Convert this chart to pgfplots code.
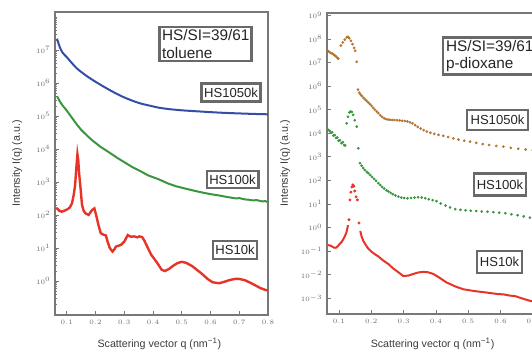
\documentclass[border=0pt]{standalone}
\usepackage{fontspec}
\setmainfont{Liberation Sans}
\usepackage{pgfplots}
\pgfplotsset{compat=1.18}
\definecolor{cblue}{RGB}{52,78,168}
\definecolor{cgreen}{RGB}{58,150,62}
\definecolor{cred}{RGB}{232,52,40}
\definecolor{cbrown}{RGB}{178,118,52}
\definecolor{axisgray}{RGB}{120,120,120}
\definecolor{labelgray}{RGB}{110,110,110}
\definecolor{textgray}{RGB}{60,60,60}
\definecolor{boxgray}{RGB}{105,105,105}
\pgfplotsset{
  panel/.style={
    scale only axis,
    axis line style={draw=axisgray, line width=0.8pt},
    tick style={draw=axisgray, line width=0.5pt},
    major tick length=3pt, minor tick length=1.6pt,
    tick align=inside, tick pos=left,
    ticklabel style={font=\fontsize{4.5}{5}\selectfont, text=labelgray},
    xticklabel style={/pgf/number format/fixed, /pgf/number format/precision=1},
    xlabel={Scattering vector q (nm\textsuperscript{−1})},
    ylabel={Intensity I(q) (a.u.)},
    label style={font=\fontsize{8}{9}\selectfont, text=textgray},
  }
}
\tikzset{hsbox/.style={draw=boxgray, line width=1.6pt, fill=white, inner xsep=2pt, inner ysep=2pt, font=\fontsize{9.8}{11}\selectfont, text=black!85}}
\begin{document}
\begin{tikzpicture}
\useasboundingbox (0,0) rectangle (399pt,264pt);
\clip (0,0) rectangle (399pt,264pt);
% ---------------- left panel: toluene
\begin{axis}[ymode=log, panel, anchor=south west, at={(41.25pt,27.75pt)}, width=159.75pt, height=227.25pt,
  xmin=0.059, xmax=0.8, ymin=0.093, ymax=1.41e8,
  xtick={0.1,0.2,0.3,0.4,0.5,0.6,0.7,0.8},
  ytick={1,10,100,1000,1e4,1e5,1e6,1e7},
  minor ytick={0.2,0.3,0.4,0.5,0.6,0.7,0.8,0.9,
    2,3,4,5,6,7,8,9, 20,30,40,50,60,70,80,90, 200,300,400,500,600,700,800,900,
    2e3,3e3,4e3,5e3,6e3,7e3,8e3,9e3, 2e4,3e4,4e4,5e4,6e4,7e4,8e4,9e4,
    2e5,3e5,4e5,5e5,6e5,7e5,8e5,9e5, 2e6,3e6,4e6,5e6,6e6,7e6,8e6,9e6,
    2e7,3e7,4e7,5e7,6e7,7e7,8e7,9e7,1e8},
  xlabel style={at={(axis description cs:0.49,-0.096)}, anchor=center},
  ylabel style={at={(axis description cs:-0.178,0.5)}, anchor=center},
]
\addplot[cblue, line width=1.5pt, smooth] coordinates {
(0.066,2.19e7)(0.075,1.26e7)(0.085,8.32e6)(0.10,6.03e6)(0.12,3.80e6)(0.135,2.75e6)
(0.155,2.00e6)(0.171,1.58e6)(0.19,1.23e6)(0.218,8.71e5)(0.25,6.03e5)(0.276,4.57e5)
(0.30,3.63e5)(0.335,2.75e5)(0.36,2.34e5)(0.394,2.00e5)(0.42,1.78e5)(0.453,1.62e5)
(0.50,1.48e5)(0.571,1.35e5)(0.63,1.26e5)(0.689,1.20e5)(0.75,1.15e5)(0.80,1.12e5)};
\addplot[cgreen, line width=1.5pt] coordinates {
(0.066,3.98e5)(0.075,2.82e5)(0.085,2.09e5)(0.10,1.45e5)(0.115,9.55e4)(0.135,5.50e4)
(0.15,3.80e4)(0.171,2.51e4)(0.19,1.78e4)(0.218,1.15e4)(0.25,7.59e3)(0.277,5.25e3)
(0.30,3.98e3)(0.33,2.75e3)(0.36,2.04e3)(0.383,1.58e3)(0.42,1.20e3)(0.453,891)
(0.48,741)(0.512,631)(0.54,550)(0.571,479)(0.60,427)(0.63,389)(0.66,347)(0.689,316)
(0.70,324)(0.72,295)(0.735,288)(0.748,275)(0.76,282)(0.78,257)(0.79,263)(0.806,234)};
\addplot[cred, line width=1.8pt] coordinates {
(0.063,166)(0.068,151)(0.075,132)(0.082,126)(0.09,132)(0.1,145)(0.11,166)(0.118,224)
(0.124,398)(0.129,813)(0.133,2510)(0.137,6920)(0.140,4470)(0.143,1780)(0.148,631)
(0.153,200)(0.159,132)(0.165,112)(0.176,100)(0.188,141)(0.196,158)(0.202,100)
(0.21,50.1)(0.218,28.2)(0.228,25.1)(0.236,24.0)(0.242,15.5)(0.25,9.77)(0.259,7.76)
(0.265,8.91)(0.271,11.0)(0.28,11.7)(0.288,12.3)(0.30,15.5)(0.312,24.5)(0.318,22.9)
(0.324,21.9)(0.335,22.4)(0.345,20.9)(0.352,22.4)(0.362,21.4)(0.37,16.6)(0.377,12.3)
(0.394,6.17)(0.412,3.80)(0.43,2.19)(0.441,2.00)(0.455,2.29)(0.47,2.88)(0.485,3.47)
(0.50,3.80)(0.515,3.55)(0.536,2.82)(0.555,2.09)(0.571,1.62)(0.59,1.15)(0.607,0.912)
(0.63,0.851)(0.65,0.955)(0.667,1.07)(0.685,1.15)(0.70,1.15)(0.72,1.05)(0.74,0.871)
(0.772,0.617)(0.79,0.537)(0.808,0.501)};
\end{axis}
% ---------------- right panel: p-dioxane
\begin{axis}[ymode=log, panel, anchor=south west, at={(245.25pt,28.5pt)}, width=156.75pt, height=225.75pt,
  xmin=0.063, xmax=0.71, ymin=2.14e-4, ymax=1.26e9,
  xtick={0.1,0.2,0.3,0.4,0.5,0.6,0.7},
  ytick={1e-3,1e-2,1e-1,1,10,100,1000,1e4,1e5,1e6,1e7,1e8,1e9},
  minor y tick style={draw=none},
  xlabel style={at={(axis description cs:0.505,-0.1)}, anchor=center},
  ylabel style={at={(axis description cs:-0.201,0.5)}, anchor=center},
]
\addplot[cbrown, only marks, mark=*, mark size=0.8pt] coordinates {
(0.067,3.02e7)(0.071,2.75e7)(0.075,2.51e7)(0.079,2.40e7)(0.083,2.19e7)(0.087,2.00e7)
(0.091,1.82e7)(0.095,1.58e7)(0.098,1.45e7)(0.106,5.25e7)(0.112,7.08e7)(0.118,9.33e7)
(0.124,1.17e8)(0.128,1.23e8)(0.132,1.07e8)(0.137,8.32e7)(0.142,6.03e7)(0.147,4.17e7)
(0.150,3.16e7)(0.155,1.07e7)(0.159,7.08e5)(0.163,5.25e5)(0.167,4.37e5)(0.171,3.80e5)
(0.176,3.16e5)(0.181,2.69e5)(0.186,2.34e5)(0.191,2.00e5)(0.196,1.70e5)(0.201,1.45e5)
(0.206,1.20e5)(0.211,1.00e5)(0.217,8.32e4)(0.222,7.08e4)(0.228,5.75e4)(0.234,4.90e4)
(0.240,4.27e4)(0.246,3.98e4)(0.252,3.80e4)(0.258,3.72e4)(0.265,3.63e4)(0.272,3.63e4)
(0.28,3.55e4)(0.288,3.47e4)(0.296,3.39e4)(0.304,3.31e4)(0.312,3.16e4)(0.32,2.88e4)
(0.328,2.63e4)(0.336,2.19e4)(0.344,1.86e4)(0.353,1.58e4)(0.362,1.35e4)(0.372,1.17e4)
(0.383,1.05e4)(0.395,9.33e3)(0.408,8.51e3)(0.423,7.76e3)(0.438,6.92e3)(0.454,6.03e3)
(0.47,5.37e3)(0.488,4.79e3)(0.506,4.37e3)(0.525,3.89e3)(0.545,3.47e3)(0.565,3.16e3)
(0.587,2.88e3)(0.609,2.69e3)(0.632,2.40e3)(0.655,2.19e3)(0.678,2.04e3)(0.70,1.91e3)};
\addplot[cgreen, only marks, mark=*, mark size=0.8pt] coordinates {
(0.067,1.38e4)(0.071,1.26e4)(0.075,1.05e4)(0.079,1.10e4)(0.083,7.94e3)(0.087,8.32e3)
(0.091,6.31e3)(0.095,6.61e3)(0.099,4.79e3)(0.103,5.01e3)(0.108,3.80e3)(0.112,4.17e3)
(0.116,3.16e3)(0.119,3.02e3)(0.124,2.63e4)(0.128,5.01e4)(0.132,7.59e4)(0.136,8.32e4)
(0.140,7.94e4)(0.144,6.03e4)(0.149,3.55e4)(0.155,1.91e4)(0.160,2.29e3)(0.165,537)
(0.17,417)(0.175,331)(0.18,275)(0.186,229)(0.191,200)(0.197,166)(0.203,138)(0.209,115)
(0.215,95.5)(0.222,75.9)(0.228,63.1)(0.234,52.5)(0.24,44.7)(0.247,38.0)(0.253,33.9)
(0.26,29.5)(0.267,25.7)(0.275,22.9)(0.284,20.4)(0.293,18.6)(0.302,17.8)(0.312,17.4)
(0.323,17.8)(0.334,18.6)(0.345,19.1)(0.356,18.6)(0.367,17.4)(0.378,15.8)(0.39,14.5)
(0.402,13.2)(0.415,10.5)(0.43,8.51)(0.444,7.08)(0.46,6.03)(0.476,5.62)(0.492,5.37)
(0.508,5.13)(0.525,5.01)(0.542,4.79)(0.56,4.68)(0.578,4.47)(0.596,4.27)(0.615,4.07)
(0.634,3.63)(0.653,3.31)(0.672,2.95)(0.691,2.63)(0.71,2.51)};
\addplot[cred, line width=1.5pt] coordinates {
(0.066,0.178)(0.072,0.174)(0.078,0.158)(0.084,0.141)(0.09,0.138)(0.096,0.158)
(0.102,0.200)(0.108,0.240)(0.114,0.331)(0.119,0.447)(0.124,0.676)(0.128,1.26)};
\addplot[cred, only marks, mark=*, mark size=0.9pt] coordinates {
(0.131,2.14)(0.134,14.8)(0.137,31.6)(0.140,52.5)(0.143,64.6)(0.146,56.2)(0.149,35.5)
(0.153,20.0)(0.157,14.8)(0.162,1.55)};
\addplot[cred, line width=1.5pt] coordinates {
(0.166,0.708)(0.17,0.417)(0.175,0.282)(0.18,0.209)(0.186,0.158)(0.191,0.126)(0.2,0.0955)
(0.21,0.0759)(0.222,0.0589)(0.237,0.0398)(0.253,0.0282)(0.268,0.0182)(0.284,0.0126)
(0.299,0.00871)(0.315,0.00912)(0.33,0.0107)(0.345,0.0123)(0.361,0.0132)(0.376,0.0126)
(0.392,0.0107)(0.41,0.00759)(0.433,0.00468)(0.46,0.00316)(0.485,0.00240)(0.52,0.00200)
(0.557,0.00174)(0.59,0.00151)(0.61,0.00145)(0.629,0.00129)(0.645,0.00123)(0.66,0.00105)
(0.691,0.000776)(0.71,0.000708)};
\end{axis}
% ---------------- label boxes
\node[hsbox, align=left, font=\fontsize{11.5}{13}\selectfont, inner xsep=2pt, text width=65pt] at (154.1pt,231pt) {HS/SI=39/61\\toluene};
\node[hsbox, minimum height=13.5pt] at (173.25pt,194.6pt) {HS1050k};
\node[hsbox, minimum height=12.8pt] at (174.4pt,129.4pt) {HS100k};
\node[hsbox, minimum height=13.5pt] at (176.25pt,76.5pt) {HS10k};
\node[hsbox, align=left, font=\fontsize{11.5}{13}\selectfont, inner xsep=2pt, text width=65pt] at (367pt,222pt) {HS/SI=39/61\\p-dioxane};
\node[hsbox, minimum height=15pt, minimum width=45.5pt] at (373.1pt,174pt) {HS1050k};
\node[hsbox, minimum height=16.5pt] at (375pt,125.6pt) {HS100k};
\node[hsbox, minimum height=16.5pt] at (374.6pt,67.5pt) {HS10k};
\end{tikzpicture}
\end{document}
